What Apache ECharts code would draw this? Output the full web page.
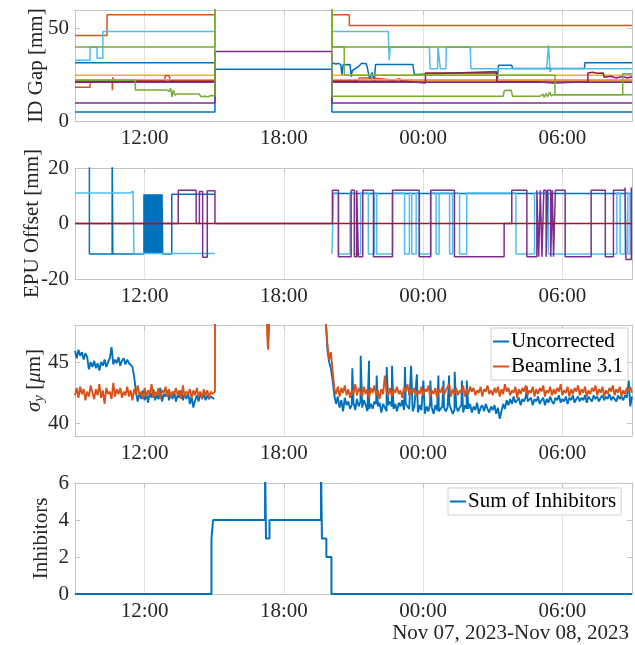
<!DOCTYPE html>
<html>
<head>
<meta charset="utf-8">
<title>ID gaps, EPU offsets, beam size and inhibitors</title>
<script src="https://cdn.jsdelivr.net/npm/echarts@6/dist/echarts.min.js"></script>
<style>
  html, body { margin: 0; padding: 0; background: #fff; }
  #chart { width: 635px; height: 645px; }
</style>
</head>
<body>
<div id="chart"></div>
<script>
// time axis is hours since Nov 07 00:00 (33 = Nov 08 09:00)
const timeTicks = [12, 18, 24, 30]
const idGapTicks = [0, 50]
const epuTicks = [-20, 0, 20]
const sigmaTicks = [40, 45]
const inhibitorTicks = [0, 2, 4, 6]
const dateLabel = 'Nov 07, 2023-Nov 08, 2023'

// ---- ID Gap [mm] (points of each trace, null = no data)
const idGapBlueMid = [[9,31.5],[15.03,31.5],[15.03,null],[20.07,31.4],[20.25,30.8],[20.35,31.2],[20.45,30.5],[20.5,24.8],[20.55,30.4],[20.85,30.6],[20.9,23.9],[20.95,27.3],[21.1,28.5],[21.25,29.8],[21.35,31.2],[21.55,31.0],[21.6,28.5],[21.65,28.8],[21.7,22.5],[21.8,26.2],[21.9,21.6],[21.95,30.6],[23.56,30.6],[23.62,25.2],[27.15,26.8],[27.2,22.8],[27.25,30.1],[27.82,30.1],[27.85,28.4],[30.95,28.4],[30.97,31.5],[33,31.5]]
const idGapOrangeTop = [[9,46.2],[10.38,46.2],[10.38,57.5],[15.03,57.5],[15.03,null],[20.07,57.5],[20.82,57.5],[20.82,51.6],[33,51.6]]
const idGapYellowA = [[9,24.7],[15.03,24.7],[15.03,null],[20.07,24.7],[33,24.7]]
const idGapPurpleA = [[9,21],[15.03,21],[15.03,null],[20.07,21],[33,21]]
const idGapGreenTop = [[9,40],[15.03,40],[15.03,90],[20.07,90],[20.07,40],[33,40]]
const idGapLightBlue = [[9,32.8],[9.65,32.8],[9.65,39.8],[9.95,39.8],[9.95,33.9],[10.2,33.9],[10.2,48.4],[15.03,48.4],[15.03,null],[20.07,48.4],[22.5,48.4],[22.54,32.8],[22.58,39.8],[24.27,39.8],[24.3,28.3],[24.62,28.3],[24.64,39.8],[24.72,39.8],[24.74,28.3],[24.98,28.3],[25.0,39.8],[26.03,39.8],[26.06,28.3],[29.32,28.3],[29.4,40.9],[29.47,26.5],[29.55,28.3],[33,28.3]]
const idGapRed = [[9,21.5],[15.03,21.5],[15.03,null],[20.07,21.5],[23.2,21.5],[23.2,20.5],[24.1,20.5],[24.1,26.0],[27.17,26.0],[27.17,21.2],[28.9,21.2],[28.9,20.5],[29.6,20.5],[29.6,21.2],[31.1,21.2],[31.1,26.0],[31.3,26.3],[31.5,25.8],[31.76,26.0],[31.8,23.6],[32.1,24.2],[32.3,23.3],[32.6,24.0],[32.8,23.2],[33,23.9]]
const idGapBlueLow = [[9,4.8],[15.03,4.8],[15.03,28],[20.07,28],[20.07,4.8],[33,4.8]]
const idGapOrangeLow = [[9,18.3],[9.65,18.3],[9.65,22],[10.6,22],[10.61,16.6],[10.63,23.6],[10.65,22],[12.85,22],[12.9,24.6],[12.97,25.6],[13.05,24.5],[13.1,22],[15.03,22],[15.03,null],[20.07,22],[21.2,22],[21.25,23.2],[21.85,23.2],[21.9,22.2],[22.7,22.2],[22.75,23.1],[23.0,22.9],[23.05,21.6],[33,21.6]]
const idGapYellowB = [[9,22.3],[15.03,22.3],[15.03,null],[20.07,22.3],[33,22.3]]
const idGapPurpleLow = [[9,9.7],[15.03,9.7],[15.03,37.6],[20.07,37.6],[20.07,9.7],[33,9.7]]
const idGapGreenMid = [[9,22],[11.6,22],[11.6,16.7],[12.95,16.7],[13.05,16.0],[13.12,17.6],[13.18,13.0],[13.24,16.8],[13.3,14.0],[13.4,14.6],[14.35,14.6],[14.42,13.3],[14.5,14.3],[14.58,13.4],[14.66,14.1],[14.75,13.1],[14.85,13.8],[15.03,13.5],[15.03,90],[20.07,90],[20.07,40],[20.6,40],[20.6,24.7],[29.68,24.7],[29.68,14.2],[33,14.2]]
const idGapGreenLow = [[20.07,90],[20.07,13.4],[27.45,13.4],[27.5,16.5],[27.8,16.6],[27.85,13.4],[29.05,13.4],[29.1,12.4],[29.16,14.6],[29.22,12.7],[29.3,14.9],[29.36,13.1],[29.45,15.6],[29.52,13.6],[29.62,14.2],[32.6,14.2],[32.6,25.6],[33,25.6]]

// ---- EPU Offset [mm] (change points: value holds until next time)
const epuBlue = [[9,30],[9.62,-11],[10.6,30],[10.63,-11],[11.97,10.5],[12.0,-11],[12.03,10.5],[12.06,-11],[12.09,10.5],[12.12,-11],[12.15,10.5],[12.18,-11],[12.21,10.5],[12.24,-11],[12.27,10.5],[12.3,-11],[12.33,10.5],[12.36,-11],[12.39,10.5],[12.42,-11],[12.45,10.5],[12.48,-11],[12.51,10.5],[12.54,-11],[12.57,10.5],[12.6,-11],[12.63,10.5],[12.66,-11],[12.69,10.5],[12.72,-11],[12.75,10.5],[12.78,-11],[13.17,10.5],[15.03,10.5],[15.04,null],[20.07,10.8],[33,10.8]]
const epuLightBlue = [[9,11],[11.4,11.7],[11.5,11],[11.54,-10.8],[15.03,-10.8],[15.04,null],[20.07,-11],[20.14,11],[20.35,-11],[20.85,11],[21.04,-11],[21.31,11],[21.64,-11],[21.9,11],[22.0,-11],[22.68,11],[23.2,-11],[23.41,11],[23.51,-11],[23.7,11],[23.84,-11],[24.32,11],[24.56,-11],[24.69,11],[25.14,-11],[25.27,11],[25.57,-11],[25.88,11],[28.0,-11],[28.8,11],[29.4,-11],[32.35,11],[32.49,-11],[32.7,11],[32.82,-11],[32.92,11],[33,11]]
const epuPurple = [[9,0],[13.45,12],[14.22,0],[14.36,11.5],[14.5,-12.2],[14.7,11.8],[15.03,0],[20.09,12],[20.35,-12],[20.9,12],[21.04,-12],[21.14,12],[21.21,-12],[21.4,12],[21.86,-12],[22.68,12],[23.83,-12],[24.33,12],[25.35,-12],[27.49,0],[27.82,12],[28.47,-12],[28.9,12],[28.98,-12],[29.05,12],[29.12,-12],[29.2,12],[29.3,-12],[29.37,12],[29.5,-12],[29.57,12],[29.62,-12],[29.7,12],[30.12,-12],[31.24,12],[31.85,-12],[32.2,12],[32.7,13],[32.74,-13],[32.97,13],[33,13]]
const epuRed = [[9,0],[33,0]]

// ---- sigma_y [um], sampled every sigmaStep hours
const sigmaStep = 0.075
const sigmaLeftStart = 9.0
const sigmaRightStart = 19.8
const uncorrectedLeft = [
  45.9, 45.3, 46.0, 45.5, 45.8, 45.2, 45.7, 45.4,
  44.4, 45.0, 44.6, 45.1, 44.5, 44.9, 44.3, 45.0, 44.7, 45.2, 44.6, 45.0,
  45.3, 46.2, 44.8, 45.2, 44.9, 45.4, 44.7, 45.1, 45.3, 44.8, 45.2, 44.9, 45.0,
  44.6, 43.8, 42.6,
  41.8, 42.5, 42.0, 42.7, 41.9, 42.4, 41.7, 42.6, 42.1, 42.8,
  41.9, 42.3, 42.0, 42.9, 41.8, 42.4, 42.2, 42.7, 41.9, 42.5,
  42.0, 42.6, 41.8, 42.3, 42.1, 42.7, 41.9, 42.4, 42.0, 42.5,
  41.6, 42.2, 41.3, 41.9, 42.3, 41.8, 42.5, 42.0, 42.4, 41.9,
  42.3, 42.0, 42.2, 42.1, 42.0
]
const uncorrectedRight = [
  48.5, 46.0, 45.0, 44.5, 43.5, 42.3,
  41.6, 42.2, 41.3, 41.9, 41.0, 42.1, 41.5, 41.8, 41.2, 41.5,
  41.7, 41.1, 42.0, 41.4, 41.8, 41.3, 41.9, 41.5, 41.0, 41.2,
  41.6, 41.2, 41.8, 41.6, 41.4, 41.7, 40.9, 41.6, 41.3, 41.0,
  41.5, 41.8, 41.4, 41.2, 41.6, 41.0, 41.7, 41.4, 41.9, 41.1,
  41.6, 41.5, 41.2, 41.3, 41.0, 41.4, 41.5, 40.9, 41.5, 41.1,
  41.2, 40.8, 41.4, 41.0, 41.6, 41.3, 40.8, 41.5, 41.1, 41.0,
  40.9, 41.4, 41.3, 41.0, 41.3, 41.6, 41.2, 40.8, 41.1, 41.4,
  41.0, 41.3, 41.5, 40.9, 41.5, 41.2,
  41.2, 41.6, 40.9, 41.4, 41.1, 41.7, 40.8, 41.3, 41.5, 41.0,
  41.6, 41.2, 40.9, 41.4, 41.1, 41.5, 40.8, 41.3, 40.4, 41.0,
  41.6, 41.2, 41.9, 41.5, 42.0, 41.6, 42.2, 41.7, 41.9, 42.1,
  41.5, 42.0, 41.8, 42.2, 41.8,
  41.7, 42.1, 41.5, 42.0, 41.8, 42.2, 41.6, 41.9, 42.1, 41.5,
  42.0, 41.7, 42.2, 41.8, 41.6, 42.1, 41.9, 42.3, 41.7, 42.0,
  41.8, 42.2, 41.6, 42.1, 41.9, 42.3, 41.7, 42.0, 42.2, 41.8,
  42.1, 41.9, 42.3, 41.7, 42.2, 42.0, 41.8, 42.3, 42.0, 42.2,
  41.8, 42.1, 42.3, 41.9, 42.2, 42.0, 42.4, 41.9, 42.2, 42.1,
  41.8, 42.3, 42.0, 42.2, 41.9, 42.3, 42.1, 42.0, 41.4, 42.2
]
// single-sample spikes of the uncorrected trace
const uncorrectedSpikes = [[20.95,44.5],[21.31,45.5],[21.67,45.1],[22.0,43.9],[22.43,44.6],[22.66,44.7],[23.22,44.6],[23.48,44.7],[23.73,44.0],[24.01,43.5],[24.31,43.5],[24.66,43.9],[24.88,43.5],[25.12,43.9],[25.36,44.2],[25.67,43.5],[25.88,43.5],[28.47,43.0],[32.86,43.5]]
const beamlineLeft = [
  42.3, 42.9, 42.1, 43.0, 42.4, 42.8, 41.9, 42.6, 42.2, 43.1,
  42.5, 42.0, 42.8, 42.3, 43.2, 42.1, 42.7, 41.6, 42.9, 42.4,
  42.6, 42.0, 43.3, 42.2, 42.8, 42.4, 42.9, 42.1, 42.6, 42.3,
  43.0, 42.2, 42.7, 41.9, 42.8, 42.4, 43.1, 42.3, 42.6, 42.0,
  42.9, 42.2, 42.7, 42.4, 43.2, 42.1, 42.6, 42.3, 42.9, 42.0,
  42.7, 42.5, 43.0, 42.2, 42.8, 42.1, 42.6, 42.4, 42.9, 42.3,
  42.7, 42.0, 43.1, 42.2, 42.6, 42.4, 42.8, 42.1, 42.7, 42.3,
  42.9, 42.2, 42.6, 42.0, 42.8, 42.3, 42.7, 42.1, 42.6, 42.4,
  42.5
]
const beamlineJump = [[15.03, 42.6], [15.04, 60], [15.05, null]]
const beamlineGapPiece = [[17.22, 60], [17.28, 47.2], [17.32, 46.0], [17.36, 47.6], [17.4, 60], [17.45, null]]
const beamlineRight = [
  48.5, 46.5, 45.2, 45.8, 44.3, 42.8,
  42.4, 43.0, 42.2, 42.9, 42.5, 43.1, 42.3, 42.8, 42.1, 42.7,
  42.4, 43.2, 42.3, 42.9, 42.6, 42.2, 43.0, 42.4, 42.8, 42.1,
  42.9, 42.5, 43.1, 42.3, 42.7, 42.0, 42.8, 42.4, 43.9, 42.6,
  42.3, 42.9, 42.2, 42.8, 42.5, 43.0, 42.4, 42.7, 42.1, 42.9,
  42.6, 43.2, 42.3, 42.8, 42.5, 42.9, 42.2, 42.7, 42.4, 43.0,
  42.3, 42.8, 42.6, 43.1, 42.2, 42.7, 42.4, 42.9, 42.1, 42.8,
  42.5, 43.0, 42.3, 42.7, 42.6, 43.2, 42.2, 42.8, 42.4, 42.9,
  42.3, 42.7, 42.5, 43.1, 42.2, 42.8, 42.4, 43.0, 42.6, 42.9,
  42.3, 42.7, 42.5, 43.0, 42.2, 42.8, 42.6, 43.1, 42.4, 42.7,
  42.3, 42.9, 42.5, 43.0, 42.2, 42.8, 42.4, 43.2, 42.6, 42.9,
  42.3, 42.7, 42.5, 43.0, 42.1, 42.8, 42.4, 42.9, 42.6, 43.1,
  42.3, 42.7, 42.5, 43.0, 42.2, 42.8, 42.4, 42.9, 42.6, 43.1,
  42.2, 42.7, 42.5, 43.0, 42.3, 42.8, 42.4, 42.9, 42.6, 43.2,
  42.3, 42.7, 42.5, 43.0, 42.2, 42.8, 42.4, 42.9, 42.6, 43.1,
  42.3, 42.8, 42.5, 43.0, 42.2, 42.7, 42.4, 42.9, 42.6, 43.1,
  42.3, 42.8, 42.5, 43.0, 42.2, 42.7, 42.4, 42.9, 42.6, 43.1,
  42.3, 42.8, 42.5, 43.0, 42.2, 42.7, 42.4, 42.9, 42.6, 43.0, 42.5
]

// ---- Sum of inhibitors (change points)
const inhibitorSum = [[9,0],[14.88,3],[14.95,4],[17.19,7],[17.23,3],[17.38,4],[19.6,7],[19.64,3],[19.83,2],[20.05,0],[33,0]]

// ---- styles / layout
const FONT = '"Liberation Serif", "Times New Roman", serif'
const FONT_SIZE = 21
const TEXT = '#262626'
const AXIS_GREY = '#c4c4c4'
const GRID_GREY = '#e2e2e2'
const C = {
  blue: '#0072BD', orange: '#D95319', yellow: '#EDB120', purple: '#7E2F8E',
  green: '#77AC30', lightBlue: '#4DBEEE', red: '#A2142F'
}
const panelTops = [10, 168, 325, 483]
const panelHeight = 111

const hourLabel = (v) => {
  const h = Math.round(v) % 24
  return (h < 10 ? '0' : '') + h + ':00'
}
const sampled = (start, values) => values.map((v, i) => [+(start + i * sigmaStep).toFixed(3), v])
const withSpikes = (base, spikes) => [...base, ...spikes].sort((a, b) => a[0] - b[0])

const panels = [
  { min: 0, max: 60, ticks: idGapTicks, name: 'ID Gap [mm]', nameGap: 28 },
  { min: -20, max: 20, ticks: epuTicks, name: 'EPU Offset [mm]', nameGap: 32 },
  { min: 39, max: 48, ticks: sigmaTicks, name: '{it|σ}{sub|y} [{it|μ}m]', nameGap: 28 },
  { min: 0, max: 6, ticks: inhibitorTicks, name: 'Inhibitors', nameGap: 23 }
]

const grids = []
const xAxes = []
const yAxes = []
panels.forEach((p, i) => {
  grids.push({ left: 75, right: 3, top: panelTops[i], height: panelHeight })
  xAxes.push({
    type: 'value', gridIndex: i, min: 9, max: 33, position: 'bottom',
    axisLine: { show: true, onZero: false, lineStyle: { color: AXIS_GREY } },
    axisTick: { show: true, inside: true, length: panelHeight, customValues: timeTicks, lineStyle: { color: GRID_GREY } },
    axisLabel: { customValues: timeTicks, formatter: hourLabel, fontFamily: FONT, fontSize: FONT_SIZE, color: TEXT, margin: 7 },
    splitLine: { show: false }
  })
  xAxes.push({
    type: 'value', gridIndex: i, min: 9, max: 33, position: 'top',
    axisLine: { show: true, onZero: false, lineStyle: { color: AXIS_GREY } },
    axisTick: { show: true, inside: true, length: 5, customValues: timeTicks, lineStyle: { color: AXIS_GREY } },
    axisLabel: { show: false },
    splitLine: { show: false }
  })
  yAxes.push({
    type: 'value', gridIndex: i, min: p.min, max: p.max, position: 'left',
    name: p.name, nameLocation: 'middle', nameGap: p.nameGap, nameMoveOverlap: false,
    nameTextStyle: {
      fontFamily: FONT, fontSize: FONT_SIZE, color: TEXT,
      rich: {
        it: { fontFamily: FONT, fontSize: FONT_SIZE, fontStyle: 'italic', color: TEXT },
        sub: { fontFamily: FONT, fontSize: 15, fontStyle: 'italic', color: TEXT, padding: [10, 0, 0, 0] }
      }
    },
    axisLine: { show: true, onZero: false, lineStyle: { color: AXIS_GREY } },
    axisTick: { show: true, inside: true, length: 5, customValues: p.ticks, lineStyle: { color: AXIS_GREY } },
    axisLabel: { customValues: p.ticks, fontFamily: FONT, fontSize: FONT_SIZE, color: TEXT, margin: 6 },
    splitLine: { show: false }
  })
  yAxes.push({
    type: 'value', gridIndex: i, min: p.min, max: p.max, position: 'right',
    axisLine: { show: true, onZero: false, lineStyle: { color: AXIS_GREY } },
    axisTick: { show: true, inside: true, length: 5, customValues: p.ticks, lineStyle: { color: AXIS_GREY } },
    axisLabel: { show: false },
    splitLine: { show: false }
  })
})

const line = (panel, color, data, extra) => Object.assign({
  type: 'line', xAxisIndex: panel * 2, yAxisIndex: panel * 2,
  data, symbol: 'none', showSymbol: false, connectNulls: false, clip: true,
  lineStyle: { color, width: 1.5 }, itemStyle: { color }
}, extra || {})

const series = [
  line(0, C.blue, idGapBlueMid),
  line(0, C.orange, idGapOrangeTop),
  line(0, C.yellow, idGapYellowA),
  line(0, C.lightBlue, idGapLightBlue),
  line(0, C.green, idGapGreenTop),
  line(0, C.blue, idGapBlueLow),
  line(0, C.orange, idGapOrangeLow),
  line(0, C.yellow, idGapYellowB),
  line(0, C.red, idGapRed),
  line(0, C.purple, idGapPurpleA),
  line(0, C.purple, idGapPurpleLow),
  line(0, C.green, idGapGreenMid),
  line(0, C.green, idGapGreenLow),

  line(1, C.blue, epuBlue, { step: 'end' }),
  line(1, C.lightBlue, epuLightBlue, { step: 'end' }),
  line(1, C.purple, epuPurple, { step: 'end' }),
  line(1, C.red, epuRed),

  line(2, C.blue, [...sampled(sigmaLeftStart, uncorrectedLeft), [15.05, null], ...withSpikes(sampled(sigmaRightStart, uncorrectedRight), uncorrectedSpikes)],
    { name: 'Uncorrected', lineStyle: { color: C.blue, width: 1.9 } }),
  line(2, C.orange, [...sampled(sigmaLeftStart, beamlineLeft), ...beamlineJump, ...beamlineGapPiece, ...sampled(sigmaRightStart, beamlineRight)],
    { name: 'Beamline 3.1', lineStyle: { color: C.orange, width: 1.9 } }),

  line(3, C.blue, inhibitorSum, { name: 'Sum of Inhibitors', step: 'end', lineStyle: { color: C.blue, width: 2 } })
]

const legendBase = {
  orient: 'vertical', icon: 'rect', itemWidth: 16, itemHeight: 2, itemGap: 4,
  backgroundColor: '#fff', borderColor: '#cfcfcf', borderWidth: 1, borderRadius: 0,
  padding: [3, 5, 3, 2], selectedMode: false,
  textStyle: { fontFamily: FONT, fontSize: FONT_SIZE, color: '#000', padding: [0, 0, 0, -3] }
}

const option = {
  animation: false,
  backgroundColor: '#fff',
  grid: grids,
  xAxis: xAxes,
  yAxis: yAxes,
  legend: [
    Object.assign({}, legendBase, { data: ['Uncorrected', 'Beamline 3.1'], left: 491, top: 328 }),
    Object.assign({}, legendBase, { data: ['Sum of Inhibitors'], left: 448, top: 488 })
  ],
  graphic: [{
    type: 'text', right: 6, top: 623,
    style: { text: dateLabel, font: FONT_SIZE + 'px ' + FONT, fill: TEXT }
  }],
  series
}

const chart = echarts.init(document.getElementById('chart'), null, { renderer: 'canvas' })
chart.setOption(option)
</script>
</body>
</html>
